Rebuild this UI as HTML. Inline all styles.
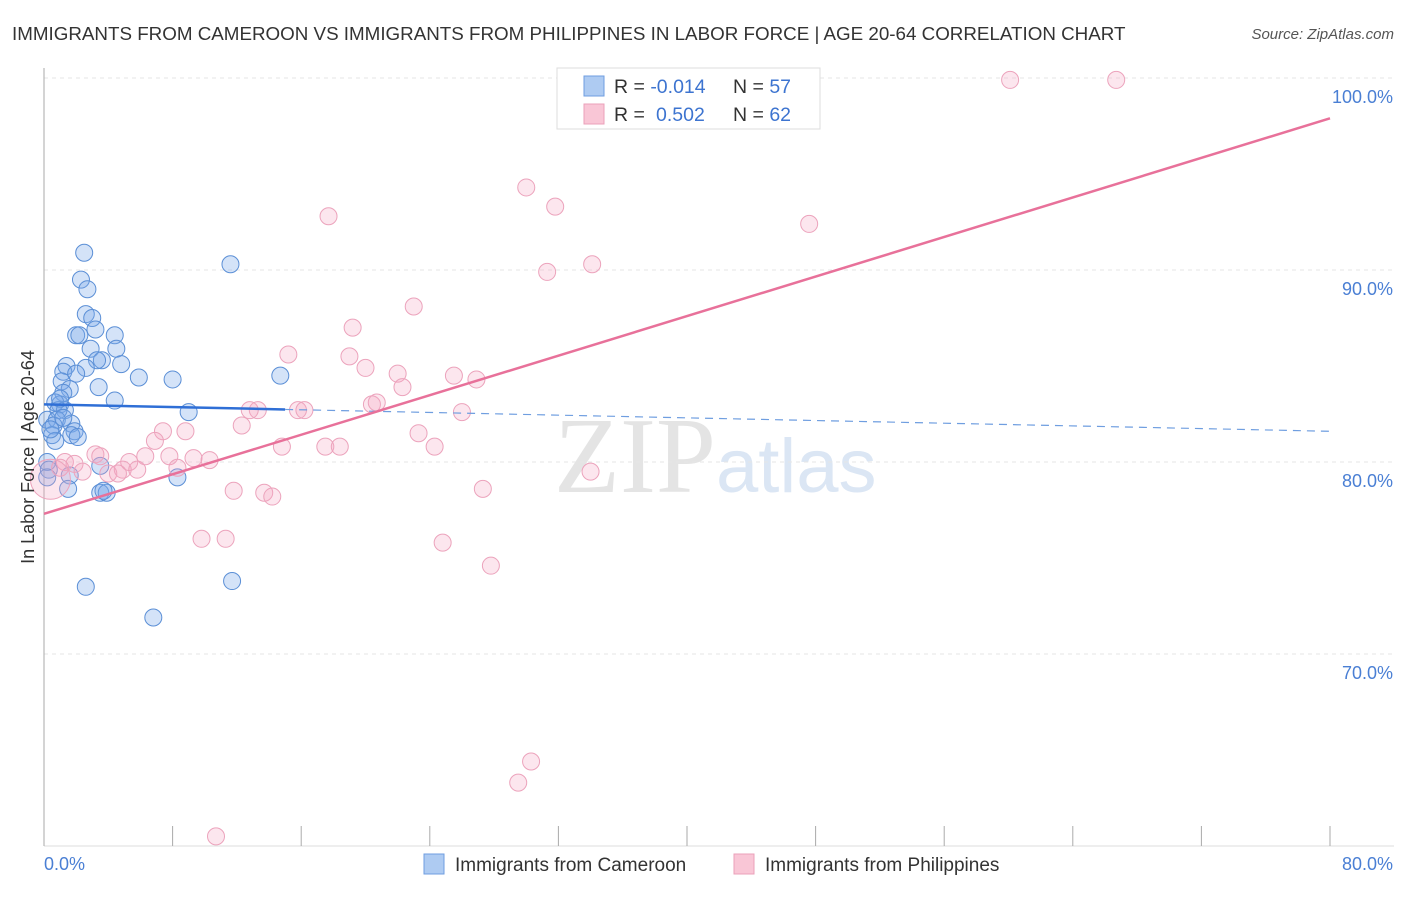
<!DOCTYPE html>
<html><head><meta charset="utf-8"><style>
body{margin:0;background:#fff;font-family:"Liberation Sans",sans-serif}
</style></head><body>
<svg id="c" width="1406" height="892" xmlns="http://www.w3.org/2000/svg">
<text x="12" y="40" font-size="18.8" fill="#333">IMMIGRANTS FROM CAMEROON VS IMMIGRANTS FROM PHILIPPINES IN LABOR FORCE | AGE 20-64 CORRELATION CHART</text>
<text x="1394" y="39" font-size="15" fill="#555" font-style="italic" text-anchor="end">Source: ZipAtlas.com</text>
<text x="716" y="492" font-size="108" fill="#e4e4e4" text-anchor="end" font-family="Liberation Serif,serif">ZIP</text>
<text x="716" y="492" font-size="76" fill="#dbe6f4">atlas</text>
<g id="grid"></g><g id="axes"></g><g id="pts"></g><g id="lines"></g>
<text transform="translate(34,457) rotate(-90)" font-size="18" fill="#333" text-anchor="middle">In Labor Force | Age 20-64</text>
<text x="44" y="870" font-size="18" fill="#4a7fd4">0.0%</text>
<text x="1393" y="870" font-size="18" fill="#4a7fd4" text-anchor="end">80.0%</text>
<g>
<rect x="557" y="68" width="263" height="61" fill="#fff" stroke="#ddd"/>
<rect x="584" y="76" width="20" height="20" fill="#aecbf2" stroke="#6f9ee0"/>
<rect x="584" y="104" width="20" height="20" fill="#f9c6d6" stroke="#eba0ba"/>
<text x="614" y="93" font-size="19.5" fill="#333">R = <tspan fill="#3d74d0">-0.014</tspan><tspan x="733">N = </tspan><tspan fill="#3d74d0">57</tspan></text>
<text x="614" y="121" font-size="19.5" fill="#333">R = <tspan fill="#3d74d0" x="656">0.502</tspan><tspan x="733">N = </tspan><tspan fill="#3d74d0">62</tspan></text>
</g>
<g>
<rect x="424" y="854" width="20" height="20" fill="#aecbf2" stroke="#6f9ee0"/>
<text x="455" y="871" font-size="19" fill="#333">Immigrants from Cameroon</text>
<rect x="734" y="854" width="20" height="20" fill="#f9c6d6" stroke="#eba0ba"/>
<text x="765" y="871" font-size="19" fill="#333">Immigrants from Philippines</text>
</g>
</svg>
<script>
const yTicks=[100,90,80,70];
const xTicks=[0,8,16,24,32,40,48,56,64,72,80];
const blueX=[2.5,2.3,2.7,2.0,2.6,3.0,3.2,2.2,4.4,2.9,4.5,3.6,3.3,4.8,1.4,1.2,2.6,2.0,5.9,8.0,11.6,14.7,1.1,3.4,1.6,1.2,4.4,1.0,0.7,1.3,9.0,0.9,0.2,0.8,1.7,0.6,1.9,1.7,2.1,0.5,0.7,0.2,0.3,3.5,1.6,8.3,1.5,3.5,3.9,3.7,2.6,11.7,6.8,0.2,0.4,1.2,1.0];
const blueY=[90.9,89.5,89.0,86.6,87.7,87.5,86.9,86.6,86.6,85.9,85.9,85.3,85.3,85.1,85.0,84.7,84.9,84.6,84.4,84.3,90.3,84.5,84.2,83.9,83.8,83.6,83.2,83.0,83.1,82.7,82.6,82.7,82.2,82.2,82.0,81.9,81.6,81.4,81.3,81.4,81.1,80.0,79.6,79.8,79.3,79.2,78.6,78.4,78.4,78.5,73.5,73.8,71.9,79.2,81.7,82.3,83.3];
const pinkX=[60.1,66.7,30.0,31.8,17.7,47.6,31.3,34.1,23.0,19.2,15.2,19.0,20.0,22.0,25.5,26.9,22.3,20.4,20.7,26.0,13.3,12.8,15.8,16.2,12.3,23.3,8.8,7.4,6.9,17.5,18.4,14.8,24.3,3.2,3.5,6.3,7.8,9.3,10.3,5.3,1.3,1.9,1.0,2.4,4.9,4.0,5.8,4.6,8.3,34.0,11.8,13.7,14.2,27.3,9.8,11.3,24.8,27.8,30.3,29.5,10.7,0.4];
const pinkY=[99.9,99.9,94.3,93.3,92.8,92.4,89.9,90.3,88.1,87.0,85.6,85.5,84.9,84.6,84.5,84.3,83.9,83.0,83.1,82.6,82.7,82.7,82.7,82.7,81.9,81.5,81.6,81.6,81.1,80.8,80.8,80.8,80.8,80.4,80.3,80.3,80.3,80.2,80.1,80.0,80.0,79.9,79.7,79.5,79.6,79.4,79.6,79.4,79.7,79.5,78.5,78.4,78.2,78.6,76.0,76.0,75.8,74.6,64.4,63.3,60.5,79.1];
const blueTrend=[83.0,81.6];
const pinkTrend=[77.3,97.9];
const sx=v=>44+v/80*1286;
const sy=v=>78+(100-v)*19.2;
const NS="http://www.w3.org/2000/svg";
function mk(p,t,a){const e=document.createElementNS(NS,t);for(const k in a)e.setAttribute(k,a[k]);p.appendChild(e);return e;}
const g=document.getElementById('grid'),ax=document.getElementById('axes'),pts=document.getElementById('pts'),ln=document.getElementById('lines');
yTicks.forEach(t=>{
 const l=mk(g,'line',{x1:44,x2:1394,y1:sy(t),y2:sy(t),stroke:'#e6e6e6','stroke-dasharray':'4,4'});
 
 
 const tx=mk(g,'text',{x:1393,y:sy(t)+25,'font-size':18,fill:'#4a7fd4','text-anchor':'end'});
 tx.textContent=t.toFixed(1)+'%';
 
 
});
const a1=mk(ax,'line',{x1:44,x2:44,y1:68,y2:846,stroke:'#aaa'});


const a2=mk(ax,'line',{x1:44,x2:1394,y1:846,y2:846,stroke:'#ddd'});


xTicks.forEach(t=>{
 const l=mk(ax,'line',{x1:sx(t),x2:sx(t),y1:826,y2:846,stroke:'#aaa'});
 
 
});
blueX.forEach((x,i)=>{
 const c=mk(pts,'circle',{cx:sx(x),cy:sy(blueY[i]),r:8.5,fill:'rgba(120,168,232,0.32)',stroke:'#5b8fd6','stroke-width':1});
 
 
});
pinkX.forEach((x,i)=>{
 const c=mk(pts,'circle',{cx:sx(x),cy:sy(pinkY[i]),r:i==pinkX.length-1?20:8.5,fill:'rgba(245,165,195,0.28)',stroke:'#eca3bc','stroke-width':1});
 
 
});
const bl=mk(ln,'line',{x1:sx(0),y1:sy(blueTrend[0]),x2:sx(15),y2:sy(blueTrend[0]+(blueTrend[1]-blueTrend[0])*15/80),stroke:'#2f6fd6','stroke-width':2.5});


const bd=mk(ln,'line',{x1:sx(15),y1:sy(blueTrend[0]+(blueTrend[1]-blueTrend[0])*15/80),x2:sx(80),y2:sy(blueTrend[1]),stroke:'#6f9ee0','stroke-width':1.2,'stroke-dasharray':'8,6'});


const pl=mk(ln,'line',{x1:sx(0),y1:sy(pinkTrend[0]),x2:sx(80),y2:sy(pinkTrend[1]),stroke:'#e8719a','stroke-width':2.5});


</script>
</body></html>
